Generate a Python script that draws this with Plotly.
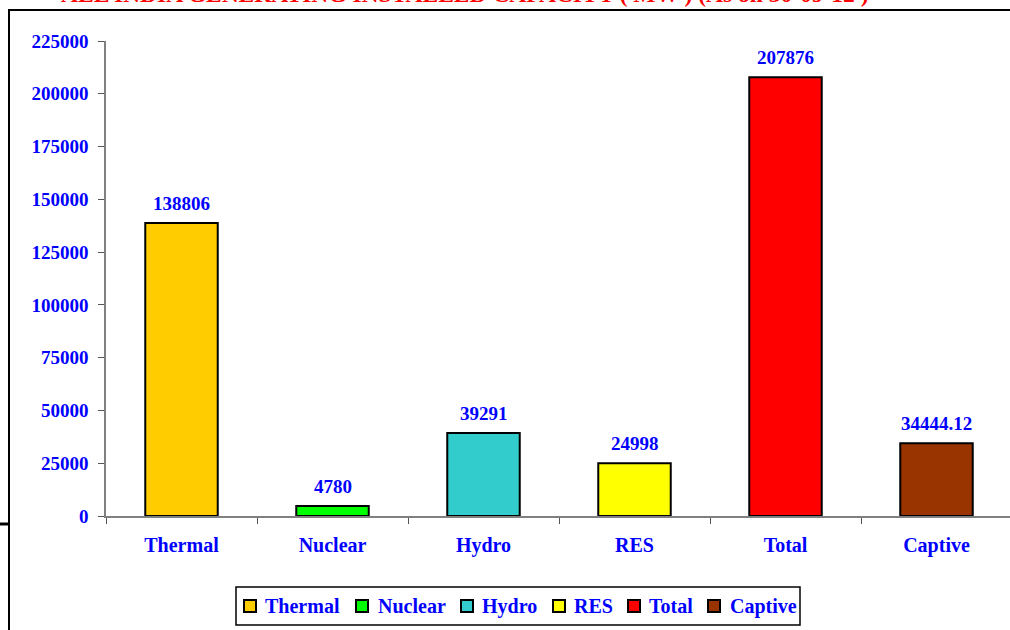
import plotly.graph_objects as go

categories = ["Thermal", "Nuclear", "Hydro", "RES", "Total", "Captive"]
values = [138806, 4780, 39291, 24998, 207876, 34444.12]
labels = ["138806", "4780", "39291", "24998", "207876", "34444.12"]
colors = ["#FFCC00", "#00FF00", "#33CCCC", "#FFFF00", "#FF0000", "#993300"]
yticks = [0, 25000, 50000, 75000, 100000, 125000, 150000, 175000, 200000, 225000]
title = "ALL INDIA GENERATING INSTALLED CAPACITY ( MW ) (As on 30-09-12 )"

FONT = "Liberation Serif"
BLUE = "#0000FF"

W, H = 1010, 630
L, R, T, B = 106, 0, 41, 114
pw, ph = W - L - R, H - T - B

def px(x):
    return (x - L) / pw

def py(y):
    return (H - B - y) / ph

fig = go.Figure()
for c, v, col in zip(categories, values, colors):
    fig.add_trace(go.Bar(
        x=[c], y=[v], name=c,
        marker=dict(color=col, line=dict(color="black", width=2)),
        width=0.48, showlegend=False,
    ))

annotations = [
    dict(x=c, y=v, text=lab, xref="x", yref="y", showarrow=False,
         yanchor="bottom", yshift=7,
         font=dict(family=FONT, size=19, color=BLUE, weight="bold"))
    for c, v, lab in zip(categories, values, labels)
]
annotations.append(
    dict(text=title, xref="paper", yref="paper", x=px(465), y=py(9),
         xanchor="center", yanchor="bottom", showarrow=False,
         font=dict(family=FONT, size=23.5, color="#FF0000", weight="bold"))
)

# legend (drawn manually to match the original's compact layout)
legend_marker_x = [244, 356, 461, 553, 628, 708]
legend_text_x = [263, 376, 480, 572, 647, 728]
shapes = [
    dict(type="rect", xref="paper", yref="paper",
         x0=px(9), x1=px(1020), y0=py(10), y1=py(700),
         line=dict(color="black", width=2), fillcolor="rgba(0,0,0,0)", layer="below"),
    dict(type="line", xref="paper", yref="paper",
         x0=px(0), x1=px(8), y0=py(524), y1=py(524),
         line=dict(color="black", width=3)),
    dict(type="rect", xref="paper", yref="paper",
         x0=px(236), x1=px(800), y0=py(587), y1=py(625),
         line=dict(color="black", width=1.5), fillcolor="white"),
]
for c, col, mx, tx in zip(categories, colors, legend_marker_x, legend_text_x):
    shapes.append(dict(type="rect", xref="paper", yref="paper",
                       x0=px(mx), x1=px(mx + 12), y0=py(600), y1=py(612),
                       line=dict(color="black", width=2), fillcolor=col))
    annotations.append(dict(text=c, xref="paper", yref="paper", x=px(tx), y=py(606),
                            xanchor="left", yanchor="middle", showarrow=False,
                            font=dict(family=FONT, size=20, color=BLUE, weight="bold")))

fig.update_layout(
    width=W, height=H,
    margin=dict(l=L, r=R, t=T, b=B),
    paper_bgcolor="white", plot_bgcolor="white",
    showlegend=False,
    xaxis=dict(
        type="category", range=[-0.5, 5.5 - 2 / 151],
        showline=True, linecolor="#808080", linewidth=1.5,
        ticks="outside", ticklen=6, tickcolor="#555555", tickson="boundaries",
        tickfont=dict(family=FONT, size=20, color=BLUE, weight="bold"),
        ticklabelstandoff=10,
        showgrid=False, zeroline=False,
    ),
    yaxis=dict(
        range=[0, 225000], tickvals=yticks, ticktext=[str(t) for t in yticks],
        showline=True, linecolor="#808080", linewidth=1.5,
        ticks="outside", ticklen=6, tickcolor="#555555",
        tickfont=dict(family=FONT, size=19, color=BLUE, weight="bold"),
        ticklabelstandoff=6,
        showgrid=False, zeroline=False,
    ),
    shapes=shapes,
    annotations=annotations,
)

fig.write_html("out.html", config={"displayModeBar": False},
               post_script="document.body.style.margin='0';document.body.style.overflow='hidden';")
